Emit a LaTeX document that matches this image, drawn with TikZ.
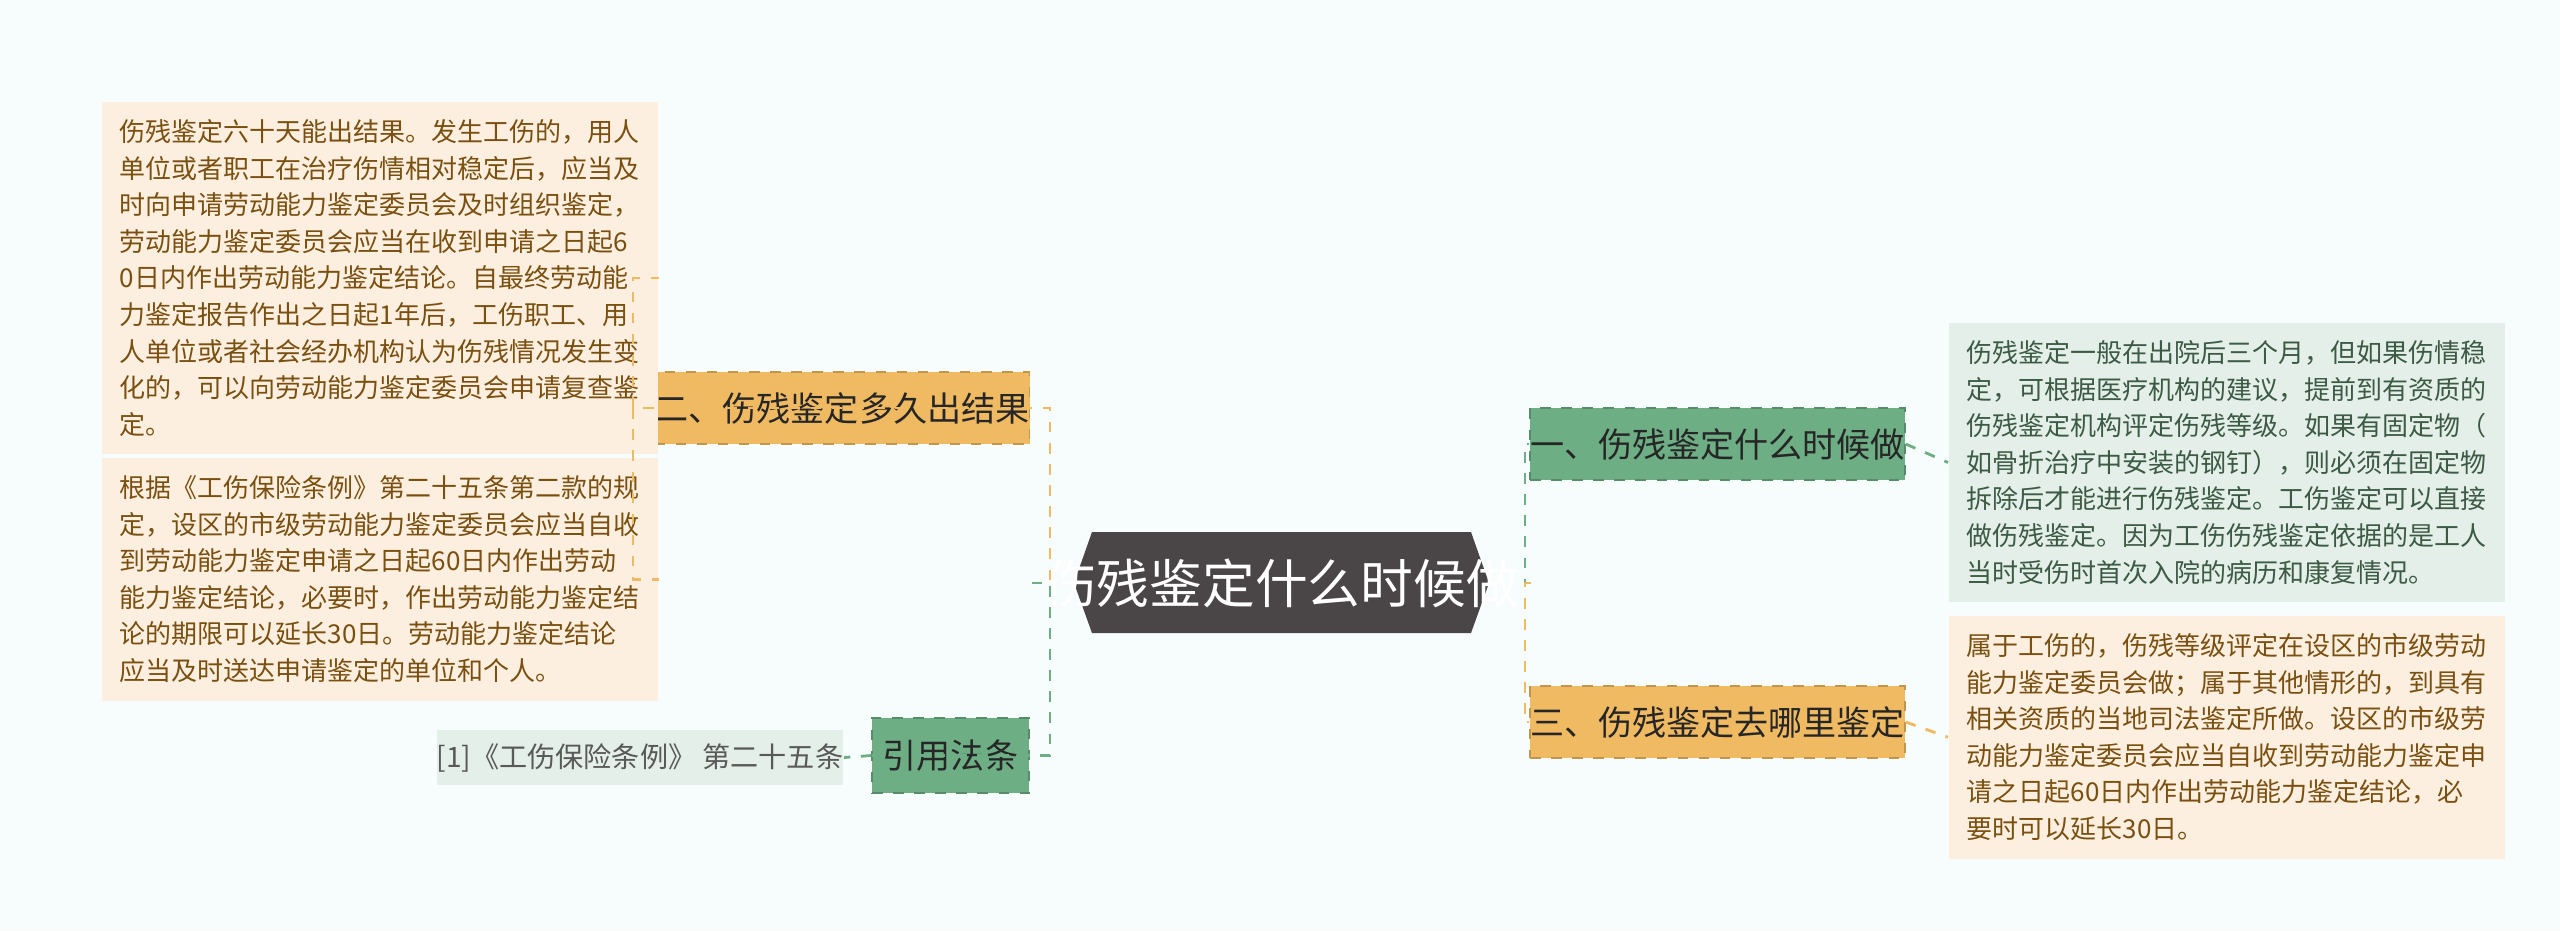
\documentclass[tikz,border=0pt]{standalone}
\usepackage{fontspec}
\setmainfont{Noto Sans CJK SC}
\usetikzlibrary{positioning}
\definecolor{bgc}{HTML}{F7FCFC}
\definecolor{grn}{HTML}{6DAE85}
\definecolor{org}{HTML}{F0BA62}
\definecolor{dark}{HTML}{4A4546}
\definecolor{lgrn}{HTML}{E3EFE8}
\definecolor{lorg}{HTML}{FDEFE0}
\definecolor{brn}{HTML}{7A5010}
\definecolor{dgrn}{HTML}{3C5A44}
\tikzset{
  topic/.style={minimum height=0.72cm, inner sep=0pt, font=\fontsize{9.7pt}{12pt}\selectfont, draw=#1!80!black, dashed, fill=#1, text=black!85},
  leaf/.style={align=left, inner sep=0.18cm, font=\fontsize{7.4pt}{10.4pt}\selectfont, anchor=north west},
  link/.style={dashed, line width=0.8pt}
}
\begin{document}
\begin{tikzpicture}[x=1cm,y=1cm]
%Draw background
\fill[bgc] (0,0) rectangle (25.6,-9.31);
\useasboundingbox (0,0) rectangle (25.6,-9.31);

%Draw root hexagon
\fill[dark] (10.74,-5.83) -- (10.92,-5.32) -- (14.71,-5.32) -- (14.89,-5.83) -- (14.71,-6.33) -- (10.92,-6.33) -- cycle;
\node (root) [minimum width=4.15cm, minimum height=1.01cm, text=white, font=\fontsize{15pt}{18pt}\selectfont] at (12.815,-5.83) {伤残鉴定什么时候做};

%Draw main topics
\node (b1) [topic=grn, minimum width=3.73cm] at (17.175,-4.44) {一、伤残鉴定什么时候做};
\node (b3) [topic=org, minimum width=3.73cm] at (17.175,-7.22) {三、伤残鉴定去哪里鉴定};
\node (b2) [topic=org, minimum width=3.74cm] at (8.42,-4.08) {二、伤残鉴定多久出结果};
\node (b4) [topic=grn, minimum width=1.57cm, minimum height=0.75cm] at (9.505,-7.555) {引用法条};

%Draw leaves
\node (t1) [leaf, fill=lgrn, text=dgrn, minimum width=5.09cm, minimum height=2.43cm] at (19.48,-3.22) {伤残鉴定一般在出院后三个月，但如果伤情稳\\定，可根据医疗机构的建议，提前到有资质的\\伤残鉴定机构评定伤残等级。如果有固定物（\\如骨折治疗中安装的钢钉），则必须在固定物\\拆除后才能进行伤残鉴定。工伤鉴定可以直接\\做伤残鉴定。因为工伤伤残鉴定依据的是工人\\当时受伤时首次入院的病历和康复情况。};
\node (t3) [leaf, fill=lorg, text=brn, minimum width=5.09cm, minimum height=2.11cm] at (19.48,-6.15) {属于工伤的，伤残等级评定在设区的市级劳动\\能力鉴定委员会做；属于其他情形的，到具有\\相关资质的当地司法鉴定所做。设区的市级劳\\动能力鉴定委员会应当自收到劳动能力鉴定申\\请之日起60日内作出劳动能力鉴定结论，必\\要时可以延长30日。};
\node (t21) [leaf, fill=lorg, text=brn, minimum width=5.1cm, minimum height=3.04cm] at (1.01,-1.01) {伤残鉴定六十天能出结果。发生工伤的，用人\\单位或者职工在治疗伤情相对稳定后，应当及\\时向申请劳动能力鉴定委员会及时组织鉴定，\\劳动能力鉴定委员会应当在收到申请之日起6\\0日内作出劳动能力鉴定结论。自最终劳动能\\力鉴定报告作出之日起1年后，工伤职工、用\\人单位或者社会经办机构认为伤残情况发生变\\化的，可以向劳动能力鉴定委员会申请复查鉴\\定。};
\node (t22) [leaf, fill=lorg, text=brn, minimum width=5.1cm, minimum height=2.12cm] at (1.01,-4.57) {根据《工伤保险条例》第二十五条第二款的规\\定，设区的市级劳动能力鉴定委员会应当自收\\到劳动能力鉴定申请之日起60日内作出劳动\\能力鉴定结论，必要时，作出劳动能力鉴定结\\论的期限可以延长30日。劳动能力鉴定结论\\应当及时送达申请鉴定的单位和个人。};
\node (t4) [fill=lgrn, text=black!65, minimum width=3.76cm, minimum height=0.55cm, inner sep=0pt, font=\fontsize{8pt}{10pt}\selectfont] at (6.4,-7.575) {[1]《工伤保险条例》 第二十五条};

%Draw connectors
\draw[link, grn] (root.east) -- (15.25,-5.83) |- (b1.west);
\draw[link, org] (root.east) -- (15.25,-5.83) |- (b3.west);
\draw[link, org] (root.west) -- (10.5,-5.83) |- (b2.west);
\draw[link, grn] (root.west) -- (10.5,-5.83) |- (b4.west);
\draw[link, grn] (b1.east) -- (t1.west);
\draw[link, org] (b3.east) -- (t3.west);
\draw[link, org] (b2.west) -- (6.33,-4.08) |- (t21.east);
\draw[link, org] (b2.west) -- (6.33,-4.08) |- (t22.east);
\draw[link, grn] (b4.west) -- (t4.east);
\end{tikzpicture}
\end{document}
